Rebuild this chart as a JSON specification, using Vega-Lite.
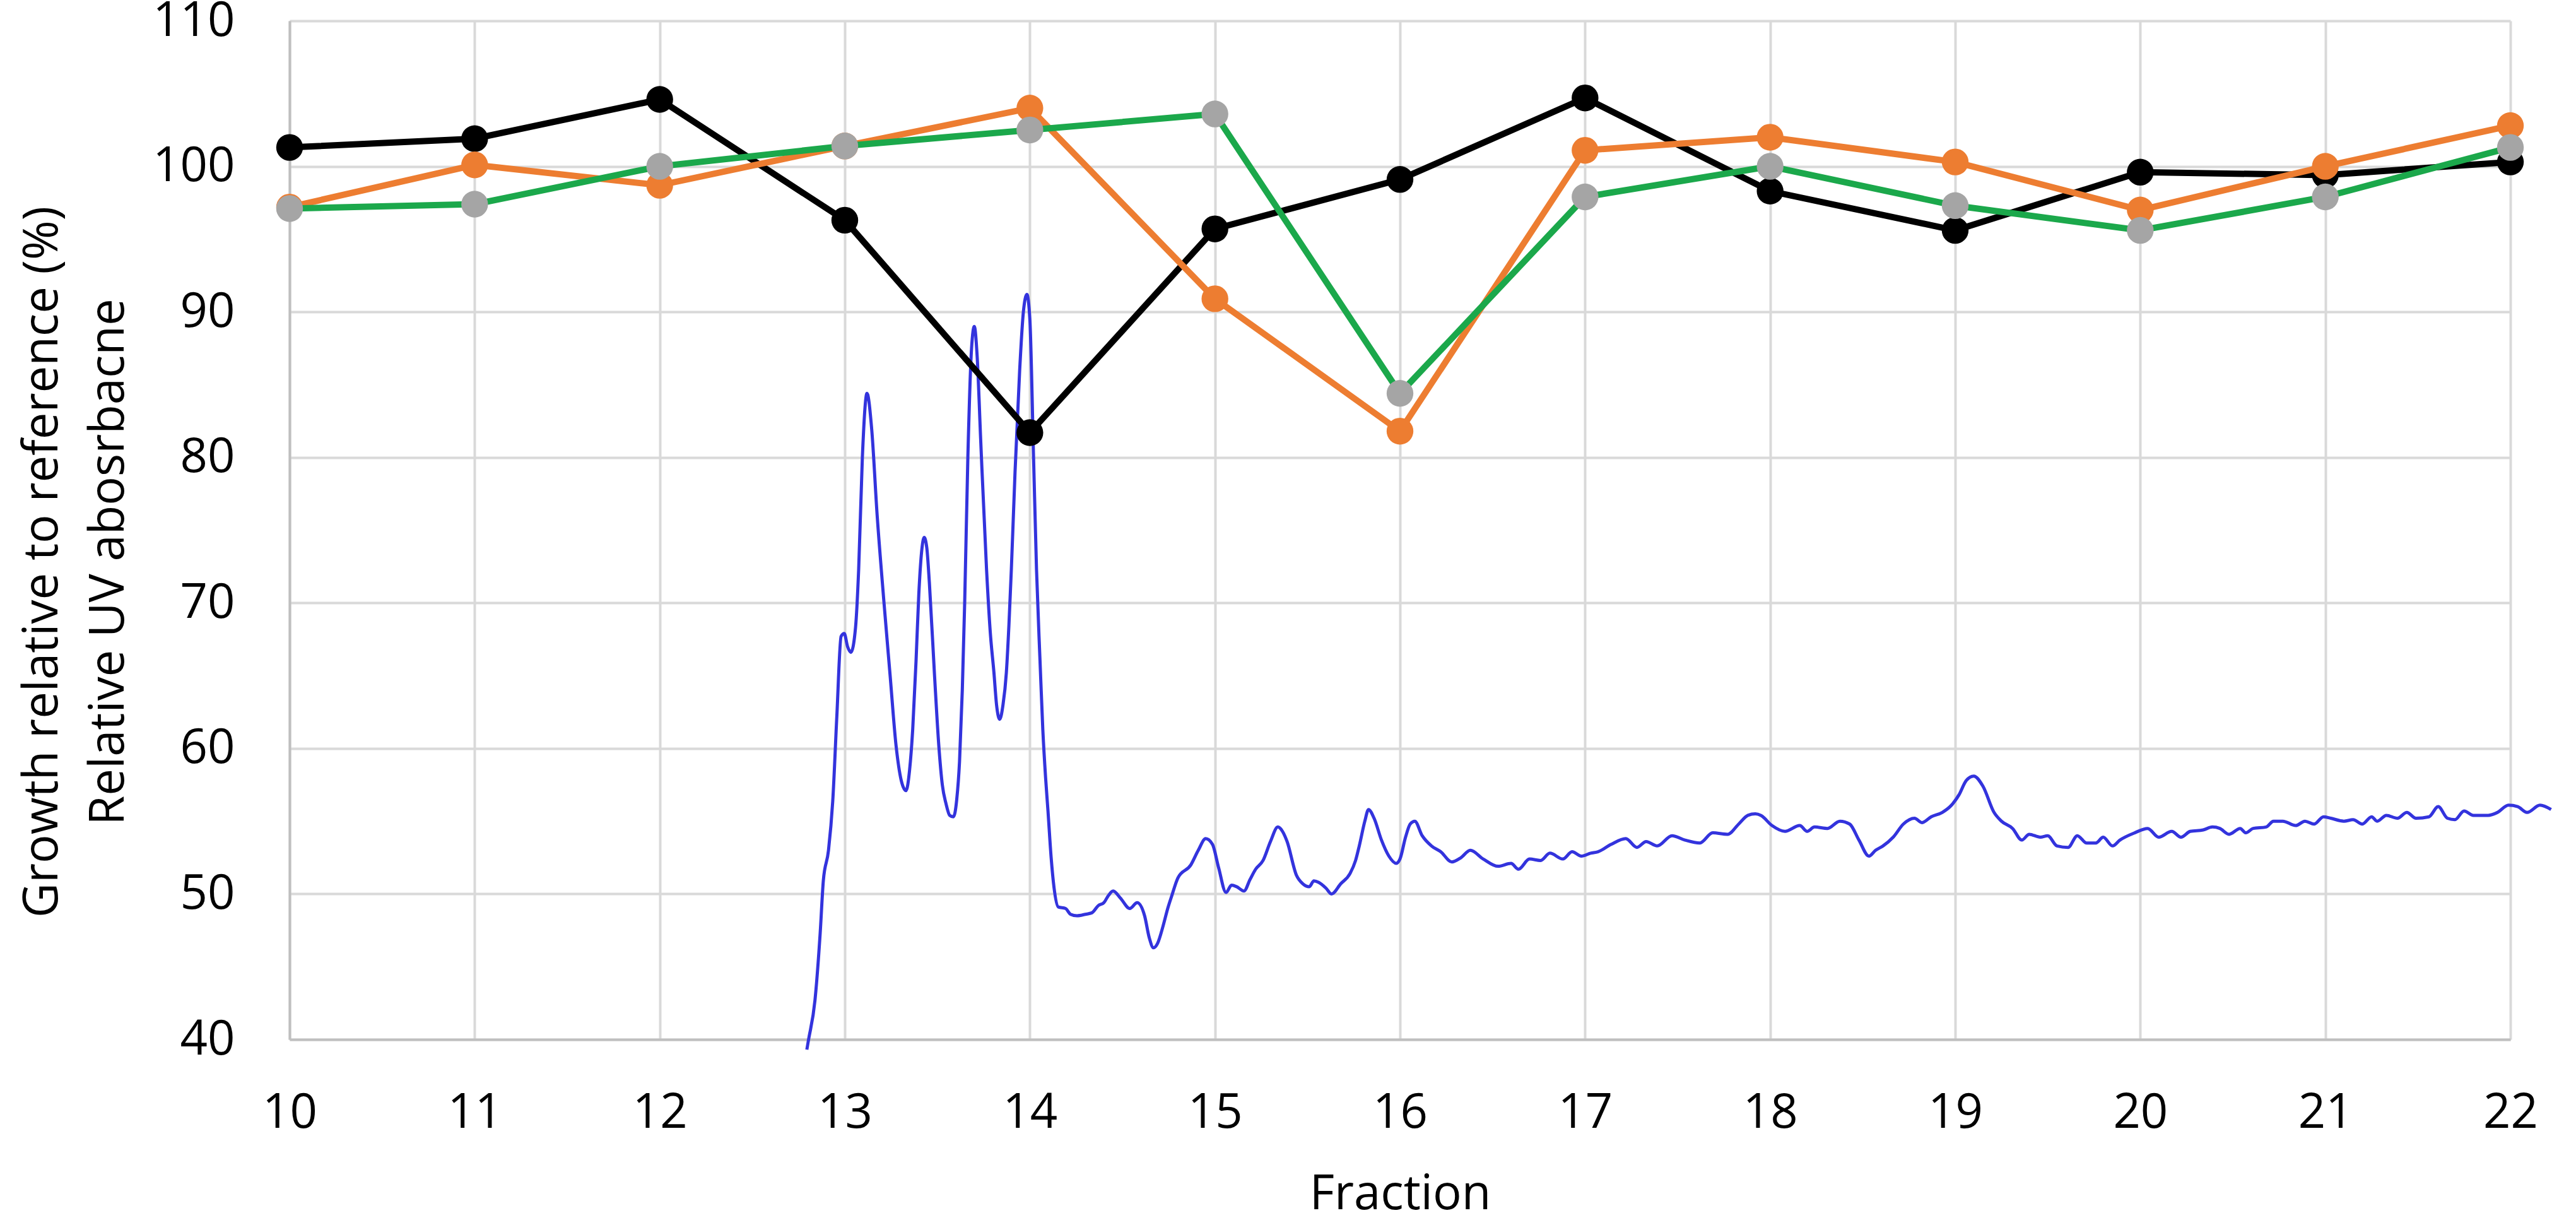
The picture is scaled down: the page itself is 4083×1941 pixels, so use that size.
{
  "$schema": "https://vega.github.io/schema/vega-lite/v6.json",
  "width": 3520,
  "height": 1614,
  "autosize": "none",
  "padding": {"left": 459, "top": 33, "right": 104, "bottom": 294},
  "background": "white",
  "config": {
    "view": {"stroke": null},
    "font": "Open Sans",
    "axis": {
      "labelFont": "Open Sans",
      "titleFont": "Open Sans",
      "labelFontSize": 76,
      "titleFontSize": 76,
      "labelColor": "#000000",
      "titleColor": "#000000",
      "titleFontWeight": "normal",
      "gridColor": "#d9d9d9",
      "gridWidth": 4,
      "domainColor": "#bfbfbf",
      "domainWidth": 4,
      "ticks": false
    }
  },
  "datasets": {
    "growth": [
      {"fraction": 10, "series": "Series 1", "value": 101.3},
      {"fraction": 11, "series": "Series 1", "value": 101.9},
      {"fraction": 12, "series": "Series 1", "value": 104.6},
      {"fraction": 13, "series": "Series 1", "value": 96.3},
      {"fraction": 14, "series": "Series 1", "value": 81.7},
      {"fraction": 15, "series": "Series 1", "value": 95.7},
      {"fraction": 16, "series": "Series 1", "value": 99.1},
      {"fraction": 17, "series": "Series 1", "value": 104.7},
      {"fraction": 18, "series": "Series 1", "value": 98.3},
      {"fraction": 19, "series": "Series 1", "value": 95.6},
      {"fraction": 20, "series": "Series 1", "value": 99.6},
      {"fraction": 21, "series": "Series 1", "value": 99.4},
      {"fraction": 22, "series": "Series 1", "value": 100.3},
      {"fraction": 10, "series": "Series 2", "value": 97.2},
      {"fraction": 11, "series": "Series 2", "value": 100.1},
      {"fraction": 12, "series": "Series 2", "value": 98.7},
      {"fraction": 13, "series": "Series 2", "value": 101.4},
      {"fraction": 14, "series": "Series 2", "value": 104.0},
      {"fraction": 15, "series": "Series 2", "value": 90.9},
      {"fraction": 16, "series": "Series 2", "value": 81.8},
      {"fraction": 17, "series": "Series 2", "value": 101.1},
      {"fraction": 18, "series": "Series 2", "value": 102.0},
      {"fraction": 19, "series": "Series 2", "value": 100.3},
      {"fraction": 20, "series": "Series 2", "value": 97.0},
      {"fraction": 21, "series": "Series 2", "value": 100.0},
      {"fraction": 22, "series": "Series 2", "value": 102.8},
      {"fraction": 10, "series": "Series 3", "value": 97.1},
      {"fraction": 11, "series": "Series 3", "value": 97.4},
      {"fraction": 12, "series": "Series 3", "value": 100.0},
      {"fraction": 13, "series": "Series 3", "value": 101.4},
      {"fraction": 14, "series": "Series 3", "value": 102.5},
      {"fraction": 15, "series": "Series 3", "value": 103.6},
      {"fraction": 16, "series": "Series 3", "value": 84.4},
      {"fraction": 17, "series": "Series 3", "value": 97.9},
      {"fraction": 18, "series": "Series 3", "value": 100.0},
      {"fraction": 19, "series": "Series 3", "value": 97.3},
      {"fraction": 20, "series": "Series 3", "value": 95.6},
      {"fraction": 21, "series": "Series 3", "value": 97.9},
      {"fraction": 22, "series": "Series 3", "value": 101.3}
    ],
    "uv": [
      {"fraction": 12.795, "absorbance": 39.3},
      {"fraction": 12.803, "absorbance": 39.9},
      {"fraction": 12.839, "absorbance": 42.7},
      {"fraction": 12.867, "absorbance": 47.3},
      {"fraction": 12.884, "absorbance": 50.9},
      {"fraction": 12.912, "absorbance": 53.0},
      {"fraction": 12.935, "absorbance": 56.4},
      {"fraction": 12.957, "absorbance": 62.2},
      {"fraction": 12.98, "absorbance": 67.7},
      {"fraction": 12.997, "absorbance": 67.9},
      {"fraction": 13.015, "absorbance": 67.0},
      {"fraction": 13.033, "absorbance": 66.6},
      {"fraction": 13.058, "absorbance": 68.3},
      {"fraction": 13.075, "absorbance": 72.3},
      {"fraction": 13.095, "absorbance": 80.0},
      {"fraction": 13.12, "absorbance": 84.4},
      {"fraction": 13.145, "absorbance": 82.0},
      {"fraction": 13.175, "absorbance": 76.0},
      {"fraction": 13.21, "absorbance": 70.3},
      {"fraction": 13.245, "absorbance": 65.0},
      {"fraction": 13.277, "absorbance": 60.2},
      {"fraction": 13.305, "absorbance": 57.8},
      {"fraction": 13.331, "absorbance": 57.1},
      {"fraction": 13.35, "absorbance": 58.5},
      {"fraction": 13.367, "absorbance": 61.3},
      {"fraction": 13.385, "absorbance": 66.0},
      {"fraction": 13.4, "absorbance": 70.6},
      {"fraction": 13.415, "absorbance": 73.5},
      {"fraction": 13.429, "absorbance": 74.5},
      {"fraction": 13.443, "absorbance": 73.8},
      {"fraction": 13.457, "absorbance": 71.4},
      {"fraction": 13.485, "absorbance": 65.0},
      {"fraction": 13.508, "absorbance": 60.2},
      {"fraction": 13.527, "absorbance": 57.5},
      {"fraction": 13.547, "absorbance": 56.2},
      {"fraction": 13.567, "absorbance": 55.4},
      {"fraction": 13.587, "absorbance": 55.3},
      {"fraction": 13.605, "absorbance": 56.5},
      {"fraction": 13.62, "absorbance": 59.1},
      {"fraction": 13.635, "absorbance": 64.0},
      {"fraction": 13.648, "absorbance": 70.1},
      {"fraction": 13.665, "absorbance": 80.0},
      {"fraction": 13.685, "absorbance": 87.5},
      {"fraction": 13.7, "absorbance": 89.0},
      {"fraction": 13.715, "absorbance": 87.0},
      {"fraction": 13.735, "absorbance": 81.0},
      {"fraction": 13.766, "absorbance": 72.3},
      {"fraction": 13.786, "absorbance": 68.0},
      {"fraction": 13.806, "absorbance": 65.2},
      {"fraction": 13.82, "absorbance": 63.0},
      {"fraction": 13.837, "absorbance": 62.0},
      {"fraction": 13.855, "absorbance": 63.0},
      {"fraction": 13.873, "absorbance": 65.2},
      {"fraction": 13.887, "absorbance": 68.5},
      {"fraction": 13.9, "absorbance": 72.3},
      {"fraction": 13.92, "absorbance": 79.0},
      {"fraction": 13.945, "absorbance": 86.0},
      {"fraction": 13.965, "absorbance": 90.0},
      {"fraction": 13.984, "absorbance": 91.2},
      {"fraction": 14.0, "absorbance": 89.5},
      {"fraction": 14.02, "absorbance": 80.0},
      {"fraction": 14.036, "absorbance": 72.3},
      {"fraction": 14.055, "absorbance": 66.0},
      {"fraction": 14.07, "absorbance": 61.3},
      {"fraction": 14.085, "absorbance": 58.0},
      {"fraction": 14.098, "absorbance": 55.7},
      {"fraction": 14.115, "absorbance": 52.5},
      {"fraction": 14.131, "absorbance": 50.4},
      {"fraction": 14.154, "absorbance": 49.1},
      {"fraction": 14.193, "absorbance": 49.0},
      {"fraction": 14.22, "absorbance": 48.6},
      {"fraction": 14.255, "absorbance": 48.5},
      {"fraction": 14.3, "absorbance": 48.6},
      {"fraction": 14.335, "absorbance": 48.7},
      {"fraction": 14.37, "absorbance": 49.2},
      {"fraction": 14.4, "absorbance": 49.4},
      {"fraction": 14.425, "absorbance": 49.9},
      {"fraction": 14.45, "absorbance": 50.2},
      {"fraction": 14.49, "absorbance": 49.7},
      {"fraction": 14.54, "absorbance": 49.0},
      {"fraction": 14.58, "absorbance": 49.4},
      {"fraction": 14.62, "absorbance": 48.5},
      {"fraction": 14.645, "absorbance": 47.0},
      {"fraction": 14.668, "absorbance": 46.3},
      {"fraction": 14.69, "absorbance": 46.6},
      {"fraction": 14.72, "absorbance": 47.8},
      {"fraction": 14.745, "absorbance": 49.0},
      {"fraction": 14.765, "absorbance": 49.8},
      {"fraction": 14.8, "absorbance": 51.1},
      {"fraction": 14.87, "absorbance": 52.0},
      {"fraction": 14.91, "absorbance": 53.0},
      {"fraction": 14.95, "absorbance": 53.8},
      {"fraction": 14.987, "absorbance": 53.4},
      {"fraction": 15.02, "absorbance": 51.8},
      {"fraction": 15.06, "absorbance": 50.1},
      {"fraction": 15.09, "absorbance": 50.6},
      {"fraction": 15.117, "absorbance": 50.5},
      {"fraction": 15.157, "absorbance": 50.2},
      {"fraction": 15.19, "absorbance": 51.0},
      {"fraction": 15.22, "absorbance": 51.7},
      {"fraction": 15.26, "absorbance": 52.3},
      {"fraction": 15.3, "absorbance": 53.6},
      {"fraction": 15.34, "absorbance": 54.6},
      {"fraction": 15.365, "absorbance": 54.3},
      {"fraction": 15.39, "absorbance": 53.6},
      {"fraction": 15.44, "absorbance": 51.3},
      {"fraction": 15.475, "absorbance": 50.7},
      {"fraction": 15.51, "absorbance": 50.5},
      {"fraction": 15.535, "absorbance": 50.9},
      {"fraction": 15.56, "absorbance": 50.8},
      {"fraction": 15.6, "absorbance": 50.4},
      {"fraction": 15.63, "absorbance": 50.0},
      {"fraction": 15.68, "absorbance": 50.7},
      {"fraction": 15.73, "absorbance": 51.4},
      {"fraction": 15.76, "absorbance": 52.3},
      {"fraction": 15.78, "absorbance": 53.3},
      {"fraction": 15.81, "absorbance": 55.0},
      {"fraction": 15.83, "absorbance": 55.8},
      {"fraction": 15.86, "absorbance": 55.2},
      {"fraction": 15.9, "absorbance": 53.7},
      {"fraction": 15.94, "absorbance": 52.6},
      {"fraction": 15.98, "absorbance": 52.1},
      {"fraction": 16.0, "absorbance": 52.4},
      {"fraction": 16.03, "absorbance": 53.9},
      {"fraction": 16.055, "absorbance": 54.8},
      {"fraction": 16.08, "absorbance": 55.0},
      {"fraction": 16.12, "absorbance": 54.0},
      {"fraction": 16.17, "absorbance": 53.3},
      {"fraction": 16.22, "absorbance": 52.9},
      {"fraction": 16.28, "absorbance": 52.2},
      {"fraction": 16.33, "absorbance": 52.5},
      {"fraction": 16.38, "absorbance": 53.0},
      {"fraction": 16.45, "absorbance": 52.4},
      {"fraction": 16.53, "absorbance": 51.9},
      {"fraction": 16.6, "absorbance": 52.1},
      {"fraction": 16.64, "absorbance": 51.7},
      {"fraction": 16.7, "absorbance": 52.4},
      {"fraction": 16.76, "absorbance": 52.3},
      {"fraction": 16.81, "absorbance": 52.8},
      {"fraction": 16.88, "absorbance": 52.4},
      {"fraction": 16.93, "absorbance": 52.9},
      {"fraction": 16.98, "absorbance": 52.6},
      {"fraction": 17.03, "absorbance": 52.8},
      {"fraction": 17.07, "absorbance": 52.9},
      {"fraction": 17.14, "absorbance": 53.4},
      {"fraction": 17.22, "absorbance": 53.8},
      {"fraction": 17.28, "absorbance": 53.2},
      {"fraction": 17.33, "absorbance": 53.6},
      {"fraction": 17.39, "absorbance": 53.3},
      {"fraction": 17.47, "absorbance": 54.0},
      {"fraction": 17.54, "absorbance": 53.7},
      {"fraction": 17.62, "absorbance": 53.5},
      {"fraction": 17.69, "absorbance": 54.2},
      {"fraction": 17.77, "absorbance": 54.1},
      {"fraction": 17.83, "absorbance": 54.8},
      {"fraction": 17.88, "absorbance": 55.4},
      {"fraction": 17.92, "absorbance": 55.5},
      {"fraction": 17.95, "absorbance": 55.4},
      {"fraction": 18.01, "absorbance": 54.7},
      {"fraction": 18.08, "absorbance": 54.3},
      {"fraction": 18.16, "absorbance": 54.7},
      {"fraction": 18.2, "absorbance": 54.3},
      {"fraction": 18.24, "absorbance": 54.6},
      {"fraction": 18.31, "absorbance": 54.5},
      {"fraction": 18.377, "absorbance": 55.0},
      {"fraction": 18.43, "absorbance": 54.8},
      {"fraction": 18.48, "absorbance": 53.7},
      {"fraction": 18.534, "absorbance": 52.6},
      {"fraction": 18.57, "absorbance": 53.0},
      {"fraction": 18.61, "absorbance": 53.3},
      {"fraction": 18.665, "absorbance": 53.9},
      {"fraction": 18.72, "absorbance": 54.8},
      {"fraction": 18.78, "absorbance": 55.2},
      {"fraction": 18.82, "absorbance": 54.9},
      {"fraction": 18.87, "absorbance": 55.3},
      {"fraction": 18.93, "absorbance": 55.6},
      {"fraction": 18.98, "absorbance": 56.1},
      {"fraction": 19.02, "absorbance": 56.8},
      {"fraction": 19.06, "absorbance": 57.8},
      {"fraction": 19.1, "absorbance": 58.1},
      {"fraction": 19.15, "absorbance": 57.4},
      {"fraction": 19.21, "absorbance": 55.6},
      {"fraction": 19.25, "absorbance": 55.0},
      {"fraction": 19.31, "absorbance": 54.5},
      {"fraction": 19.36, "absorbance": 53.7},
      {"fraction": 19.4, "absorbance": 54.1},
      {"fraction": 19.46, "absorbance": 53.9},
      {"fraction": 19.5, "absorbance": 54.0},
      {"fraction": 19.55, "absorbance": 53.3},
      {"fraction": 19.61, "absorbance": 53.2},
      {"fraction": 19.66, "absorbance": 54.0},
      {"fraction": 19.71, "absorbance": 53.5},
      {"fraction": 19.76, "absorbance": 53.5},
      {"fraction": 19.8, "absorbance": 53.9},
      {"fraction": 19.85, "absorbance": 53.3},
      {"fraction": 19.89, "absorbance": 53.7},
      {"fraction": 19.97, "absorbance": 54.2},
      {"fraction": 20.04, "absorbance": 54.5},
      {"fraction": 20.1, "absorbance": 53.9},
      {"fraction": 20.17, "absorbance": 54.3},
      {"fraction": 20.22, "absorbance": 53.9},
      {"fraction": 20.27, "absorbance": 54.3},
      {"fraction": 20.34, "absorbance": 54.4},
      {"fraction": 20.39, "absorbance": 54.6},
      {"fraction": 20.43, "absorbance": 54.5},
      {"fraction": 20.48, "absorbance": 54.1},
      {"fraction": 20.54, "absorbance": 54.5},
      {"fraction": 20.57, "absorbance": 54.2},
      {"fraction": 20.61, "absorbance": 54.5},
      {"fraction": 20.68, "absorbance": 54.6},
      {"fraction": 20.72, "absorbance": 55.0},
      {"fraction": 20.77, "absorbance": 55.0},
      {"fraction": 20.84, "absorbance": 54.7},
      {"fraction": 20.89, "absorbance": 55.0},
      {"fraction": 20.94, "absorbance": 54.8},
      {"fraction": 20.99, "absorbance": 55.3},
      {"fraction": 21.03, "absorbance": 55.2},
      {"fraction": 21.1, "absorbance": 55.0},
      {"fraction": 21.15, "absorbance": 55.1},
      {"fraction": 21.2, "absorbance": 54.8},
      {"fraction": 21.25, "absorbance": 55.3},
      {"fraction": 21.28, "absorbance": 55.0},
      {"fraction": 21.33, "absorbance": 55.4},
      {"fraction": 21.39, "absorbance": 55.2},
      {"fraction": 21.44, "absorbance": 55.6},
      {"fraction": 21.49, "absorbance": 55.2},
      {"fraction": 21.56, "absorbance": 55.3},
      {"fraction": 21.61, "absorbance": 56.0},
      {"fraction": 21.66, "absorbance": 55.2},
      {"fraction": 21.7, "absorbance": 55.1},
      {"fraction": 21.75, "absorbance": 55.7},
      {"fraction": 21.8, "absorbance": 55.4},
      {"fraction": 21.88, "absorbance": 55.4},
      {"fraction": 21.93, "absorbance": 55.6},
      {"fraction": 21.99, "absorbance": 56.1},
      {"fraction": 22.04, "absorbance": 56.0},
      {"fraction": 22.09, "absorbance": 55.6},
      {"fraction": 22.16, "absorbance": 56.1},
      {"fraction": 22.22, "absorbance": 55.8}
    ]
  },
  "encoding": {
    "x": {
      "field": "fraction",
      "type": "quantitative",
      "scale": {"domain": [10, 22], "nice": false, "zero": false},
      "axis": {
        "values": [10, 11, 12, 13, 14, 15, 16, 17, 18, 19, 20, 21, 22],
        "title": "Fraction",
        "labelPadding": 79,
        "labelFlush": false,
        "titleBaseline": "alphabetic",
        "titleY": 268
      }
    }
  },
  "layer": [
    {
      "data": {"name": "uv"},
      "mark": {"type": "line", "color": "#3333dd", "strokeWidth": 5, "interpolate": "monotone", "clip": false},
      "encoding": {
        "y": {
          "field": "absorbance",
          "type": "quantitative",
          "scale": {"domain": [40, 110], "nice": false, "zero": false},
          "axis": {
            "values": [40, 50, 60, 70, 80, 90, 100, 110],
            "title": ["Growth relative to reference (%)", "Relative UV abosrbacne"],
            "titleLineHeight": 105,
            "titleBaseline": "alphabetic",
            "titleAlign": "center",
            "titleX": -369,
            "titleY": 857,
            "labelPadding": 87
          }
        }
      }
    },
    {
      "data": {"name": "growth"},
      "transform": [{"filter": "datum.series === 'Series 1'"}],
      "layer": [
        {"mark": {"type": "line", "color": "#000000", "strokeWidth": 10}},
        {"mark": {"type": "circle", "size": 1800, "color": "#000000", "opacity": 1}}
      ],
      "encoding": {"y": {"field": "value", "type": "quantitative"}}
    },
    {
      "data": {"name": "growth"},
      "transform": [{"filter": "datum.series === 'Series 2'"}],
      "layer": [
        {"mark": {"type": "line", "color": "#ed7d31", "strokeWidth": 10}},
        {"mark": {"type": "circle", "size": 1800, "color": "#ed7d31", "opacity": 1}}
      ],
      "encoding": {"y": {"field": "value", "type": "quantitative"}}
    },
    {
      "data": {"name": "growth"},
      "transform": [{"filter": "datum.series === 'Series 3'"}],
      "layer": [
        {"mark": {"type": "line", "color": "#1ba84b", "strokeWidth": 10}},
        {"mark": {"type": "circle", "size": 1800, "color": "#a5a5a5", "opacity": 1}}
      ],
      "encoding": {"y": {"field": "value", "type": "quantitative"}}
    }
  ]
}
